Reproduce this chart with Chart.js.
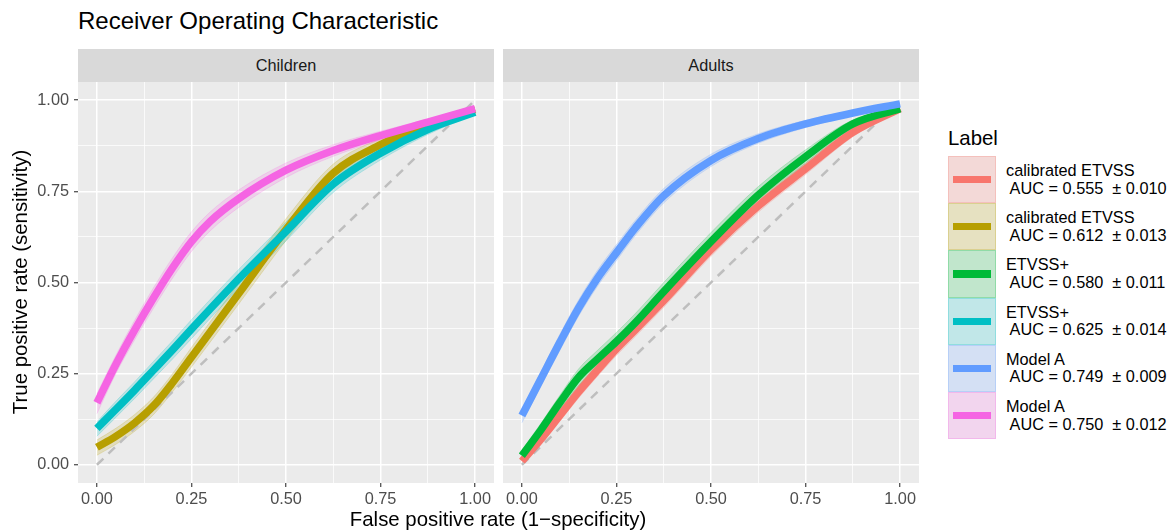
<!DOCTYPE html>
<html>
<head>
<meta charset="utf-8">
<title>Receiver Operating Characteristic</title>
<script src="https://cdn.jsdelivr.net/npm/chart.js@4.4.1/dist/chart.umd.min.js"></script>
<style>
  body { margin: 0; background: #fff; font-family: "Liberation Sans", Arial, Helvetica, sans-serif; }
  #page { position: relative; width: 1174px; height: 531px; overflow: hidden; }
  .abs { position: absolute; }
  #title { left: 78px; top: 9px; font-size: 24px; line-height: 24px; color: #000; white-space: nowrap; }
  .strip { top: 49px; height: 33px; background: #D9D9D9; color: #1A1A1A; font-size: 16.3px; line-height: 33px; text-align: center; }
  #ytitle { left: -180px; top: 270px; width: 400px; height: 24px; font-size: 20.4px; line-height: 24px; text-align: center; transform: rotate(-90deg); color: #000; white-space: nowrap; }
  #xtitle { left: 298px; top: 507px; width: 400px; height: 24px; font-size: 20.4px; line-height: 24px; text-align: center; color: #000; white-space: nowrap; }
  #legendTitle { left: 948px; top: 126px; font-size: 20.4px; line-height: 24px; color: #000; }
  .key { width: 48px; height: 47.2px; box-sizing: border-box; background: #F2F2F2; }
  .keyFill { position: absolute; left: 0; top: 0; right: 0; bottom: 0; box-sizing: border-box; border: 1px solid; }
  .keyLine { position: absolute; left: 5px; width: 38px; top: 20px; height: 7.3px; }
  .keyText { font-size: 16.3px; line-height: 17.6px; white-space: pre; color: #000; }
  canvas { position: absolute; }
</style>
</head>
<body>
<div id="page">
  <div id="title" class="abs">Receiver Operating Characteristic</div>
  <div class="abs strip" style="left:78px;width:416px;">Children</div>
  <div class="abs strip" style="left:503px;width:416px;">Adults</div>
  <canvas id="panelChildren" width="494" height="428" style="left:0;top:82px;"></canvas>
  <canvas id="panelAdults" width="416" height="428" style="left:503px;top:82px;"></canvas>
  <div id="ytitle" class="abs">True positive rate (sensitivity)</div>
  <div id="xtitle" class="abs">False positive rate (1&minus;specificity)</div>
  <div id="legendTitle" class="abs">Label</div>
  <div id="legend"></div>
</div>
<script>
const FONT = '"Liberation Sans", Arial, Helvetica, sans-serif';

// false positive rate at which every curve is sampled
const fprGrid = [0, 0.05, 0.1, 0.15, 0.2, 0.25, 0.3, 0.375, 0.5, 0.625, 0.75, 0.875, 1];

// Children
const childCalTpr = [0.048, 0.078, 0.115, 0.162, 0.225, 0.295, 0.365, 0.47, 0.645, 0.80, 0.878, 0.936, 0.975];
const childCalLo  = [0.026, 0.056, 0.092, 0.138, 0.20, 0.268, 0.337, 0.441, 0.615, 0.775, 0.861, 0.925, 0.971];
const childCalHi  = [0.068, 0.10, 0.138, 0.186, 0.25, 0.322, 0.393, 0.499, 0.675, 0.825, 0.895, 0.947, 0.979];

const childPlusTpr = [0.10, 0.152, 0.205, 0.26, 0.315, 0.372, 0.428, 0.51, 0.64, 0.77, 0.855, 0.92, 0.967];
const childPlusLo  = [0.078, 0.13, 0.182, 0.236, 0.29, 0.346, 0.402, 0.484, 0.614, 0.747, 0.836, 0.906, 0.962];
const childPlusHi  = [0.118, 0.174, 0.228, 0.284, 0.34, 0.398, 0.454, 0.536, 0.666, 0.793, 0.874, 0.934, 0.972];

const childModelTpr = [0.17, 0.275, 0.37, 0.458, 0.54, 0.612, 0.668, 0.73, 0.808, 0.862, 0.903, 0.94, 0.977];
const childModelLo  = [0.14, 0.25, 0.343, 0.43, 0.512, 0.585, 0.642, 0.706, 0.788, 0.846, 0.891, 0.932, 0.973];
const childModelHi  = [0.195, 0.30, 0.397, 0.486, 0.568, 0.639, 0.694, 0.754, 0.828, 0.878, 0.915, 0.948, 0.981];

// Adults
const adultCalTpr = [0.01, 0.07, 0.135, 0.20, 0.26, 0.318, 0.37, 0.45, 0.59, 0.71, 0.812, 0.912, 0.977];
const adultCalLo  = [0.0, 0.055, 0.119, 0.183, 0.243, 0.30, 0.352, 0.432, 0.572, 0.693, 0.796, 0.90, 0.973];
const adultCalHi  = [0.022, 0.085, 0.151, 0.217, 0.277, 0.336, 0.388, 0.468, 0.608, 0.727, 0.828, 0.924, 0.981];

const adultPlusTpr = [0.025, 0.095, 0.17, 0.24, 0.29, 0.338, 0.39, 0.475, 0.612, 0.74, 0.845, 0.935, 0.977];
const adultPlusLo  = [0.012, 0.077, 0.15, 0.217, 0.266, 0.313, 0.365, 0.45, 0.587, 0.717, 0.826, 0.924, 0.973];
const adultPlusHi  = [0.04, 0.113, 0.19, 0.263, 0.314, 0.363, 0.415, 0.50, 0.637, 0.763, 0.864, 0.946, 0.981];

const adultModelTpr = [0.135, 0.235, 0.335, 0.43, 0.512, 0.582, 0.65, 0.738, 0.835, 0.895, 0.935, 0.965, 0.99];
const adultModelLo  = [0.115, 0.215, 0.313, 0.408, 0.49, 0.56, 0.629, 0.718, 0.818, 0.882, 0.925, 0.958, 0.987];
const adultModelHi  = [0.152, 0.255, 0.357, 0.452, 0.534, 0.604, 0.671, 0.758, 0.852, 0.908, 0.945, 0.972, 0.993];

// legend / series descriptions, in legend order
const seriesLabels = ['calibrated ETVSS', 'calibrated ETVSS', 'ETVSS+', 'ETVSS+', 'Model A', 'Model A'];
const aucValues = ['0.555', '0.612', '0.580', '0.625', '0.749', '0.750'];
const aucErrors = ['0.010', '0.013', '0.011', '0.014', '0.009', '0.012'];
const seriesPanel = ['Adults', 'Children', 'Adults', 'Children', 'Adults', 'Children'];
const seriesColors = ['#F8766D', '#B79F00', '#00BA38', '#00BFC4', '#619CFF', '#F564E3'];

const seriesTpr = [adultCalTpr, childCalTpr, adultPlusTpr, childPlusTpr, adultModelTpr, childModelTpr];
const seriesLo = [adultCalLo, childCalLo, adultPlusLo, childPlusLo, adultModelLo, childModelLo];
const seriesHi = [adultCalHi, childCalHi, adultPlusHi, childPlusHi, adultModelHi, childModelHi];

// chance line and axis ticks
const chanceLine = [0, 1];
const tickValues = [0, 0.25, 0.5, 0.75, 1];
const tickLabels = ['0.00', '0.25', '0.50', '0.75', '1.00'];

function rgba(hex, a) {
    const n = parseInt(hex.slice(1), 16);
    return `rgba(${(n >> 16) & 255}, ${(n >> 8) & 255}, ${n & 255}, ${a})`;
}

function toPoints(ys) {
    return fprGrid.map((x, i) => ({ x: x, y: ys[i] }));
}

function isMajor(v) {
    return tickValues.some(t => Math.abs(t - v) < 1e-6);
}

function tickText(value) {
    const i = tickValues.findIndex(t => Math.abs(t - value) < 1e-6);
    return i >= 0 ? tickLabels[i] : '';
}

// grey panel background
const panelBackground = {
    id: 'panelBackground',
    beforeDraw(chart) {
        const { ctx, chartArea: a } = chart;
        ctx.save();
        ctx.fillStyle = '#EBEBEB';
        ctx.fillRect(a.left, a.top, a.right - a.left, a.bottom - a.top);
        ctx.restore();
    }
};

function buildDatasets(panel) {
    const sets = [{
        data: chanceLine.map(v => ({ x: v, y: v })),
        borderColor: '#BEBEBE',
        borderWidth: 2.5,
        borderDash: [9, 7],
        pointRadius: 0,
        fill: false,
        order: 150
    }];
    seriesColors.forEach((color, k) => {
        if (seriesPanel[k] !== panel) return;
        sets.push({
            data: toPoints(seriesLo[k]),
            borderColor: rgba(color, 0.2),
            borderWidth: 1,
            pointRadius: 0,
            fill: false,
            cubicInterpolationMode: 'monotone',
            order: 300 - 2 * k
        });
        sets.push({
            data: toPoints(seriesHi[k]),
            borderColor: rgba(color, 0.2),
            backgroundColor: rgba(color, 0.2),
            borderWidth: 1,
            pointRadius: 0,
            fill: '-1',
            cubicInterpolationMode: 'monotone',
            order: 299 - 2 * k
        });
        sets.push({
            data: toPoints(seriesTpr[k]),
            borderColor: color,
            borderWidth: 7.6,
            borderCapStyle: 'butt',
            borderJoinStyle: 'round',
            pointRadius: 0,
            fill: false,
            cubicInterpolationMode: 'monotone',
            order: 100 - k
        });
    });
    return sets;
}

function makePanel(canvasId, panel, showY) {
    const tickFont = { family: FONT, size: 16.3 };
    return new Chart(document.getElementById(canvasId), {
        type: 'scatter',
        data: { datasets: buildDatasets(panel) },
        options: {
            responsive: false,
            animation: false,
            devicePixelRatio: 1,
            events: [],
            showLine: true,
            layout: { padding: 0 },
            plugins: { legend: { display: false }, tooltip: { enabled: false } },
            scales: {
                x: {
                    type: 'linear',
                    min: -0.05,
                    max: 1.05,
                    afterFit: s => { s.height = 27; s.paddingLeft = 0; s.paddingRight = 0; },
                    ticks: {
                        stepSize: 0.125, includeBounds: false, autoSkip: false, maxRotation: 0,
                        padding: 3, color: '#4D4D4D', font: tickFont, callback: tickText
                    },
                    grid: {
                        color: '#FFFFFF',
                        lineWidth: c => isMajor(c.tick.value) ? 1.5 : 0.75,
                        drawTicks: true,
                        tickLength: 4,
                        tickWidth: 1.1,
                        tickColor: c => isMajor(c.tick.value) ? '#333333' : 'rgba(0,0,0,0)'
                    },
                    border: { display: false }
                },
                y: {
                    type: 'linear',
                    min: -0.05,
                    max: 1.05,
                    afterFit: s => { s.width = showY ? 78 : 0; s.paddingTop = 0; s.paddingBottom = 0; },
                    ticks: {
                        display: showY,
                        stepSize: 0.125, includeBounds: false, autoSkip: false,
                        padding: 5, color: '#4D4D4D', font: tickFont, callback: tickText
                    },
                    grid: {
                        color: '#FFFFFF',
                        lineWidth: c => isMajor(c.tick.value) ? 1.5 : 0.75,
                        drawTicks: showY,
                        tickLength: 4,
                        tickWidth: 1.1,
                        tickColor: c => isMajor(c.tick.value) ? '#333333' : 'rgba(0,0,0,0)'
                    },
                    border: { display: false }
                }
            }
        },
        plugins: [panelBackground]
    });
}

function buildLegend() {
    const legend = document.getElementById('legend');
    seriesColors.forEach((color, k) => {
        const top = 156 + k * 47.2;
        const key = document.createElement('div');
        key.className = 'abs key';
        key.style.left = '948px';
        key.style.top = top + 'px';
        key.innerHTML = `<div class="keyFill" style="background:${rgba(color, 0.2)};border-color:${rgba(color, 0.25)}"></div>` +
            `<div class="keyLine" style="background:${color}"></div>`;
        legend.appendChild(key);

        const text = document.createElement('div');
        text.className = 'abs keyText';
        text.style.left = '1006px';
        text.style.top = (top + 6) + 'px';
        text.textContent = `${seriesLabels[k]}\n AUC = ${aucValues[k]}  \u00B1 ${aucErrors[k]}`;
        legend.appendChild(text);
    });
}

makePanel('panelChildren', 'Children', true);
makePanel('panelAdults', 'Adults', false);
buildLegend();
</script>
</body>
</html>
